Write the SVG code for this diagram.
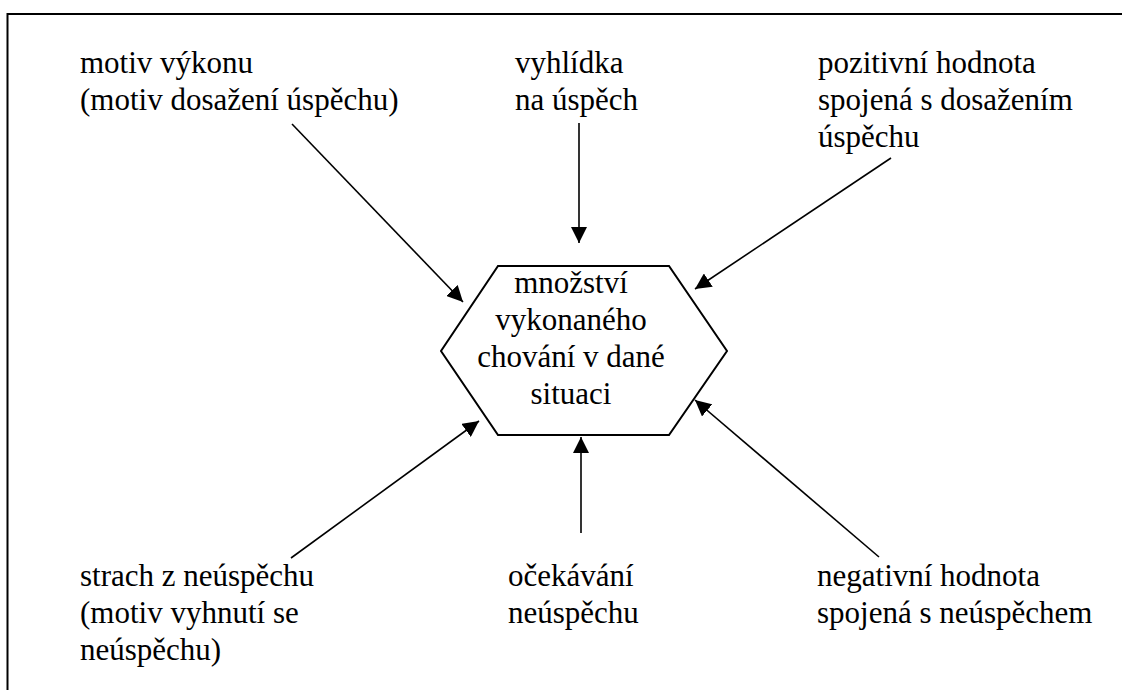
<svg xmlns="http://www.w3.org/2000/svg" width="1122" height="690" viewBox="0 0 1122 690">
<style>
.c{text-anchor:middle}
.ln{stroke:#000;stroke-width:1.6;fill:none}
</style>
<defs>
<marker id="ah" markerUnits="userSpaceOnUse" markerWidth="16" markerHeight="16" viewBox="0 0 16 16" refX="16" refY="8" orient="auto">
<path d="M0,0 L16,8 L0,16 Z" fill="#000"/>
</marker>
</defs>
<rect width="1122" height="690" fill="#fff"/>
<path d="M7.5,700 V14 H1130" stroke="#000" stroke-width="2" fill="none"/>
<g font-family="Liberation Serif, DejaVu Serif, serif" font-size="31" fill="#000">
<g id="center">
<polygon points="498,266 669,266 727,351 669,435 498,435 441,351" fill="#fff" stroke="#000" stroke-width="2"/>
<text class="c" x="571" y="293">množství</text>
<text class="c" x="571" y="330">vykonaného</text>
<text class="c" x="571" y="367">chování v dané</text>
<text class="c" x="571" y="404">situaci</text>
</g>
<g id="n-motiv">
<text x="80" y="73">motiv výkonu</text>
<text x="80" y="110">(motiv dosažení úspěchu)</text>
</g>
<g id="n-vyhlidka">
<text x="515" y="73">vyhlídka</text>
<text x="515" y="110">na úspěch</text>
</g>
<g id="n-pozitivni">
<text x="818" y="73">pozitivní hodnota</text>
<text x="818" y="110">spojená s dosažením</text>
<text x="818" y="147">úspěchu</text>
</g>
<g id="n-strach">
<text x="80" y="586">strach z neúspěchu</text>
<text x="80" y="623">(motiv vyhnutí se</text>
<text x="80" y="660">neúspěchu)</text>
</g>
<g id="n-ocekavani">
<text x="508" y="586">očekávání</text>
<text x="508" y="623">neúspěchu</text>
</g>
<g id="n-negativni">
<text x="817" y="586">negativní hodnota</text>
<text x="817" y="623">spojená s neúspěchem</text>
</g>
</g>
<g id="connectors">
<line class="ln" x1="292" y1="124" x2="463" y2="302" marker-end="url(#ah)"/>
<line class="ln" x1="579" y1="123" x2="579" y2="243" marker-end="url(#ah)"/>
<line class="ln" x1="891" y1="158" x2="695" y2="289" marker-end="url(#ah)"/>
<line class="ln" x1="291" y1="558" x2="479" y2="421" marker-end="url(#ah)"/>
<line class="ln" x1="581" y1="533" x2="581" y2="437" marker-end="url(#ah)"/>
<line class="ln" x1="879" y1="557" x2="695" y2="400" marker-end="url(#ah)"/>
</g>
</svg>
